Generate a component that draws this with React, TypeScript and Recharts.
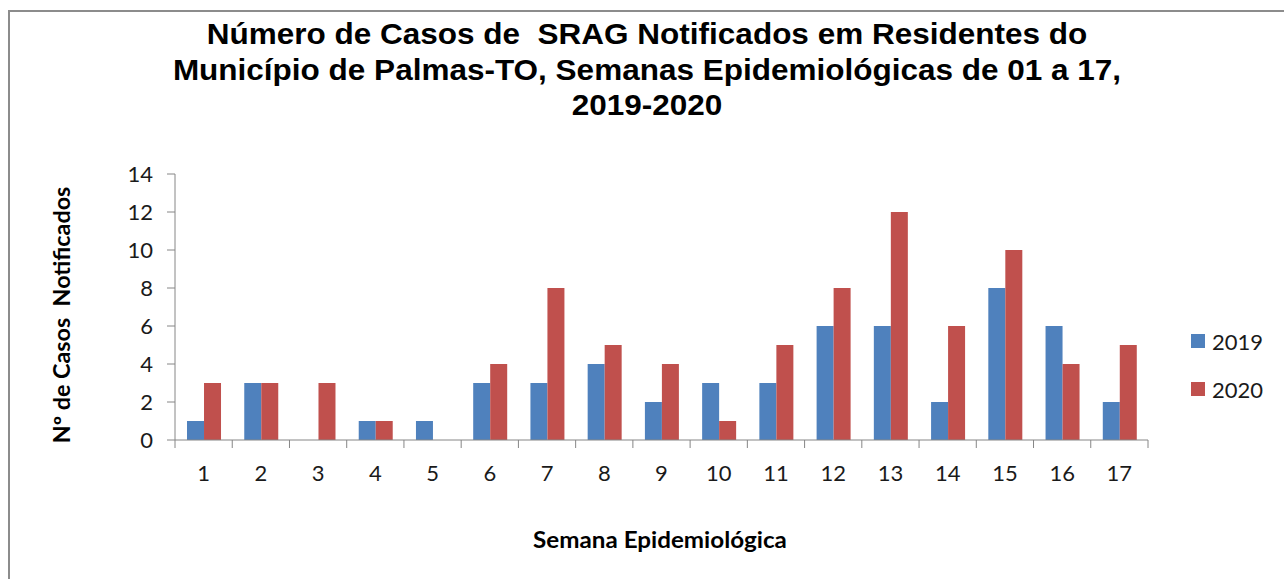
import { Bar, BarChart, Legend, XAxis, YAxis } from "recharts";

const semanas = ["1", "2", "3", "4", "5", "6", "7", "8", "9", "10", "11", "12", "13", "14", "15", "16", "17"];
const casos2019 = [1, 3, 0, 1, 1, 3, 3, 4, 2, 3, 3, 6, 6, 2, 8, 6, 2];
const casos2020 = [3, 3, 3, 1, 0, 4, 8, 5, 4, 1, 5, 8, 12, 6, 10, 4, 5];
const yTicks = [0, 2, 4, 6, 8, 10, 12, 14];
const titleLines = [
  "Número de Casos de  SRAG Notificados em Residentes do",
  "Município de Palmas-TO, Semanas Epidemiológicas de 01 a 17,",
  "2019-2020",
];

const data = semanas.map((s, i) => ({ semana: s, a2019: casos2019[i], a2020: casos2020[i] }));

const AXIS = "#868686";
const BLUE = "#4F81BD";
const RED = "#C0504D";
const TICK_SIZE = 8;
const TICK_MARGIN = 12;

const CategoryTick = (props: any) => {
  const { x, y, payload, index, width } = props;
  const band = width / semanas.length;
  const axisY = y - TICK_MARGIN - TICK_SIZE;
  const left = x - band / 2;
  return (
    <g>
      <line x1={left} x2={left} y1={axisY} y2={axisY + TICK_SIZE} stroke={AXIS} />
      {index === semanas.length - 1 && (
        <line x1={x + band / 2} x2={x + band / 2} y1={axisY} y2={axisY + TICK_SIZE} stroke={AXIS} />
      )}
      <text x={x} y={y} dy={21} textAnchor="middle" fontSize={22} fontFamily="Lato" fill="#1a1a1a">
        {payload.value}
      </text>
    </g>
  );
};

const LegendBox = () => (
  <div style={{ fontFamily: "Lato", fontSize: 22, color: "#1a1a1a" }}>
    {[
      { name: "2019", color: BLUE },
      { name: "2020", color: RED },
    ].map((it) => (
      <div key={it.name} style={{ display: "flex", alignItems: "center", height: 48 }}>
        <span style={{ width: 14, height: 14, background: it.color, marginRight: 7, display: "inline-block" }} />
        {it.name}
      </div>
    ))}
  </div>
);

const App = () => {
  return (
    <div
      style={{
        position: "absolute",
        left: 8,
        top: 10,
        width: 1276,
        height: 569,
        borderTop: "2px solid #8c8c8c",
        borderLeft: "2px solid #8c8c8c",
        boxSizing: "border-box",
        background: "#fff",
      }}
    >
      <div
        style={{
          position: "absolute",
          left: 0,
          top: 4,
          width: 1274,
          textAlign: "center",
          fontFamily: "Liberation Sans",
          fontWeight: "bold",
          fontSize: 30,
          lineHeight: "35.5px",
          whiteSpace: "pre",
          transform: "scaleX(1.05)",
          transformOrigin: "637px 0",
        }}
      >
        {titleLines.map((l) => (
          <div key={l}>{l}</div>
        ))}
      </div>
      <div
        style={{
          position: "absolute",
          left: 52 - 150,
          top: 303 - 14,
          width: 300,
          height: 28,
          lineHeight: "28px",
          textAlign: "center",
          transform: "rotate(-90deg) scaleX(1.06)",
          fontFamily: "Lato",
          fontWeight: "bold",
          fontSize: 22,
          whiteSpace: "pre",
        }}
      >
        {"Nº de Casos  Notificados"}
      </div>
      <div
        style={{
          position: "absolute",
          left: 650 - 200,
          top: 528 - 14,
          width: 400,
          lineHeight: "28px",
          textAlign: "center",
          fontFamily: "Lato",
          fontWeight: "bold",
          fontSize: 22,
          transform: "scaleX(1.1)",
        }}
      >
        Semana Epidemiológica
      </div>
      <BarChart
        width={1274}
        height={567}
        data={data}
        margin={{ top: 162, right: 136, left: 105, bottom: 99 }}
        barCategoryGap="21%"
        barGap={0}
      >
        <XAxis
          dataKey="semana"
          height={40}
          stroke={AXIS}
          tickLine={{ stroke: "none" }}
          tickSize={TICK_SIZE}
          tickMargin={TICK_MARGIN}
          tick={<CategoryTick />}
          interval={0}
        />
        <YAxis
          width={60}
          domain={[0, 14]}
          ticks={yTicks}
          stroke={AXIS}
          tickSize={TICK_SIZE}
          tickMargin={14}
          tick={{ fontSize: 22, fontFamily: "Lato", fill: "#1a1a1a" }}
          interval={0}
        />
        <Legend
          layout="vertical"
          align="center"
          verticalAlign="middle"
          content={<LegendBox />}
          wrapperStyle={{ left: 1181, top: 305, width: 90 }}
        />
        <Bar dataKey="a2019" name="2019" fill={BLUE} isAnimationActive={false} />
        <Bar dataKey="a2020" name="2020" fill={RED} isAnimationActive={false} />
      </BarChart>
    </div>
  );
};

export default App;
